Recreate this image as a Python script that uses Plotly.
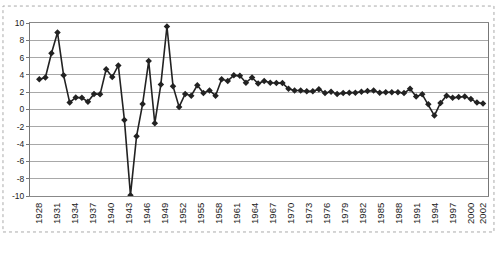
import plotly.graph_objects as go

# Values (one point per category, 74 points)
values = [3.5, 3.7, 6.5, 8.9, 3.95, 0.8, 1.4, 1.35, 0.9, 1.8,
          1.75, 4.65, 3.75, 5.1, -1.2, -9.9, -3.1, 0.65, 5.6, -1.6,
          2.9, 9.6, 2.7, 0.3, 1.8, 1.6, 2.8, 1.9, 2.2, 1.6,
          3.5, 3.3, 3.95, 3.9, 3.1, 3.7, 3.0, 3.3, 3.1, 3.05,
          3.05, 2.4, 2.2, 2.2, 2.1, 2.1, 2.35, 1.9, 2.05, 1.8,
          1.9, 1.95, 1.95, 2.05, 2.15, 2.2, 1.95, 2.0, 2.0, 2.0,
          1.9, 2.4, 1.5, 1.75, 0.6, -0.7, 0.75, 1.6, 1.35, 1.45,
          1.5, 1.2, 0.8, 0.7]

tick_years = [1928, 1931, 1934, 1937, 1940, 1943, 1946, 1949, 1952, 1955,
              1958, 1961, 1964, 1967, 1970, 1973, 1976, 1979, 1982, 1985,
              1988, 1991, 1994, 1997, 2000, 2002]
first_year, last_year = 1928, 2002

y_ticks = [-10, -8, -6, -4, -2, 0, 2, 4, 6, 8, 10]

n = len(values)
x_idx = list(range(n))
# map label years linearly onto the span of the plotted points
tick_pos = [(yr - first_year) * (n - 1) / (last_year - first_year) for yr in tick_years]

fig = go.Figure()
fig.add_trace(go.Scatter(
    x=x_idx, y=values, mode="lines+markers",
    line=dict(color="#222222", width=1.6),
    marker=dict(symbol="diamond", size=5, color="#222222"),
    showlegend=False,
))

font = "Liberation Sans, Arial, sans-serif"
fig.update_layout(
    width=500, height=253,
    margin=dict(l=30, r=12, t=23, b=57),
    paper_bgcolor="white", plot_bgcolor="white",
    xaxis=dict(
        range=[-1.53, n - 1 + 0.82],
        tickmode="array", tickvals=tick_pos, ticktext=[str(t) for t in tick_years],
        tickangle=-90, tickfont=dict(family=font, size=9.5, color="#222"),
        showgrid=False, zeroline=False,
        showline=True, linecolor="#888", linewidth=1, mirror=True,
        ticks="", ticklabelstandoff=2,
    ),
    yaxis=dict(
        range=[-10, 10], tickmode="array", tickvals=y_ticks,
        ticktext=[str(v) for v in y_ticks],
        tickfont=dict(family=font, size=8.5, color="#222"),
        showgrid=True, gridcolor="#a8a8a8", gridwidth=1,
        zeroline=False,
        showline=True, linecolor="#777", linewidth=1, mirror=True,
        ticks="outside", ticklen=3, tickcolor="#777",
    ),
    shapes=[dict(
        type="rect", xref="paper", yref="paper",
        x0=-0.059, x1=1.013, y0=-0.208, y1=1.098,
        line=dict(color="#aaaaaa", width=1, dash="dot"),
        fillcolor="rgba(0,0,0,0)", layer="below",
    )],
)

fig.write_html("out.html")
